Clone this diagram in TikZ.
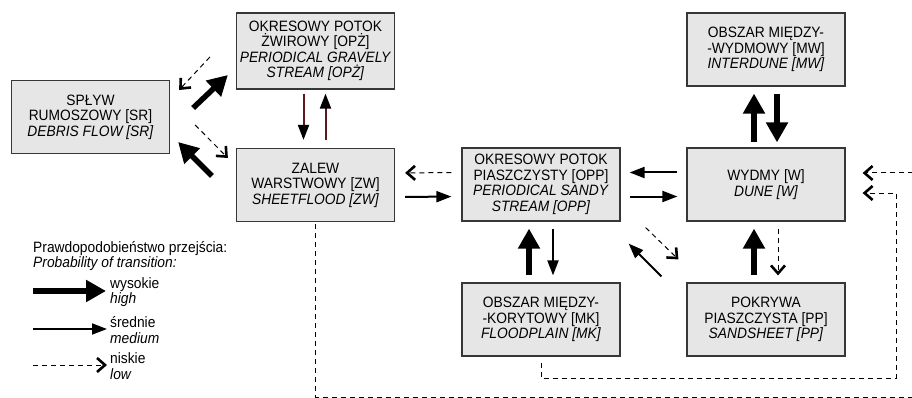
\documentclass[tikz,border=0pt]{standalone}
\usepackage{fontspec}
\setmainfont[FakeStretch=0.92]{Liberation Sans}
\usepackage{xcolor}
\usepackage{tikz}
\usetikzlibrary{arrows.meta, positioning}

\definecolor{boxgray}{RGB}{230,230,230}
\definecolor{boxline}{RGB}{55,55,55}
\definecolor{darkshaft}{RGB}{95,25,30}

\tikzset{
  facies/.style={draw=boxline, fill=boxgray, line width=1.2pt, minimum width=158pt, minimum height=73pt, align=center, inner sep=2pt, font=\fontsize{15}{15.5}\selectfont},
  legend/.style={align=left, inner sep=0pt, font=\fontsize{15}{15.5}\selectfont},
  high/.style={line width=5.5pt, -{Triangle[length=20pt,width=21pt]}},
  medium/.style={line width=2pt, -{Triangle[length=15pt,width=11pt]}},
  low/.style={line width=1pt, dash pattern=on 5pt off 4pt, -{Straight Barb[length=8pt,width=14pt,line width=2.6pt]}},
  gap/.style={shorten <=#1, shorten >=#1}
}

\begin{document}
\begin{tikzpicture}[x=1pt, y=-1pt]
    \useasboundingbox (0,0) rectangle (912,398);
    \clip (0,0) rectangle (912,398);

    % Boxes
    \node[facies, minimum height=76pt] (opz) at (315.5,51) {OKRESOWY POTOK\\ŻWIROWY [OPŻ]\\\textit{PERIODICAL GRAVELY}\\\textit{STREAM [OPŻ]}};
    \node[facies] (sr) at (90.5,117) {SPŁYW\\RUMOSZOWY [SR]\\\textit{DEBRIS FLOW [SR]}};
    \node[facies] (zw) at (315.5,185) {ZALEW\\WARSTWOWY [ZW]\\\textit{SHEETFLOOD [ZW]}};
    \node[facies] (opp) at (541,184.5) {OKRESOWY POTOK\\PIASZCZYSTY [OPP]\\\textit{PERIODICAL SANDY}\\\textit{STREAM [OPP]}};
    \node[facies] (w) at (766,184.5) {WYDMY [W]\\\textit{DUNE [W]}};
    \node[facies] (mw) at (766,49.5) {OBSZAR MIĘDZY-\\-WYDMOWY [MW]\\\textit{INTERDUNE [MW]}};
    \node[facies] (mk) at (541,319.5) {OBSZAR MIĘDZY-\\-KORYTOWY [MK]\\\textit{FLOODPLAIN [MK]}};
    \node[facies] (pp) at (766,319.5) {POKRYWA\\PIASZCZYSTA [PP]\\\textit{SANDSHEET [PP]}};

    % Transitions round SR
    \draw[low] ([xshift=-26pt,yshift=-6pt]opz.west) -- ([xshift=9pt,yshift=27pt]sr.east);
    \draw[high] ([xshift=23pt,yshift=9pt]sr.east) -- ([xshift=-8pt,yshift=-24pt]opz.west);
    \draw[low] ([xshift=25pt,yshift=-8pt]sr.east) -- ([xshift=-8pt,yshift=27pt]zw.west);
    \draw[high] ([xshift=-24pt,yshift=9pt]zw.west) -- ([xshift=8pt,yshift=-25pt]sr.east);

    % OPZ - ZW
    \draw[darkshaft, line width=2pt, -{Triangle[length=15pt,width=11pt,color=black]}, shorten <=4pt, shorten >=8pt] ([xshift=-12pt]opz.south) -- ([xshift=-12pt]zw.north);
    \draw[darkshaft, line width=2pt, -{Triangle[length=15pt,width=11pt,color=black]}, shorten <=8pt, shorten >=4pt] ([xshift=10pt]zw.north) -- ([xshift=10pt]opz.south);

    % ZW - OPP - W
    \draw[low, gap=10pt] ([yshift=12pt]opp.west) -- ([yshift=12pt]zw.east);
    \draw[medium, gap=10pt] ([yshift=-12pt]zw.east) -- ([yshift=-12pt]opp.west);
    \draw[medium, gap=9pt] ([yshift=12pt]w.west) -- ([yshift=12pt]opp.east);
    \draw[medium, gap=9pt] ([yshift=-12pt]opp.east) -- ([yshift=-12pt]w.west);

    % vertical pairs
    \draw[high, gap=7pt] ([xshift=-12pt]mk.north) -- ([xshift=-12pt]opp.south);
    \draw[medium, gap=7pt] ([xshift=12pt]opp.south) -- ([xshift=12pt]mk.north);
    \draw[high, gap=7pt] ([xshift=-12pt]pp.north) -- ([xshift=-12pt]w.south);
    \draw[low, gap=7pt] ([xshift=12pt]w.south) -- ([xshift=12pt]pp.north);
    \draw[high, shorten <=5pt, shorten >=7pt] ([xshift=-12pt]w.north) -- ([xshift=-12pt]mw.south);
    \draw[high, shorten <=7pt, shorten >=5pt] ([xshift=11pt]mw.south) -- ([xshift=11pt]w.north);

    % OPP - PP
    \draw[low] ([xshift=25pt,yshift=-6pt]opp.south east) -- ([xshift=-8pt,yshift=23pt]pp.north west);
    \draw[medium] ([xshift=-25pt,yshift=6pt]pp.north west) -- ([xshift=8pt,yshift=-22pt]opp.south east);

    % long returns to W
    \coordinate (outer) at (920,397);
    \coordinate (inner) at (896,378);
    \draw[low, shorten <=2pt] (zw.south) |- (outer) |- ([xshift=17pt,yshift=11.5pt]w.east);
    \draw[low, shorten <=6pt] (mk.south) |- (inner) |- ([xshift=17pt,yshift=-8.5pt]w.east);

    % Legend
    \node[legend, anchor=west] (ltitle) at (33,256) {Prawdopodobieństwo przejścia:\\\textit{Probability of transition:}};
    \coordinate (lhi) at (33,291);
    \coordinate (lmed) at (33,329);
    \coordinate (llow) at (33,365);
    \node[legend, anchor=west] (lhigh) at (110,292) {wysokie\\\textit{high}};
    \node[legend, anchor=west] (lmedium) at (110,330) {średnie\\\textit{medium}};
    \node[legend, anchor=west] (lsmall) at (110,366) {niskie\\\textit{low}};
    \draw[high] (lhi) -- ([xshift=-4pt,yshift=1pt]lhigh.west);
    \draw[medium] (lmed) -- ([xshift=-3pt,yshift=1pt]lmedium.west);
    \draw[low] (llow) -- ([xshift=-3pt,yshift=1pt]lsmall.west);
\end{tikzpicture}
\end{document}
